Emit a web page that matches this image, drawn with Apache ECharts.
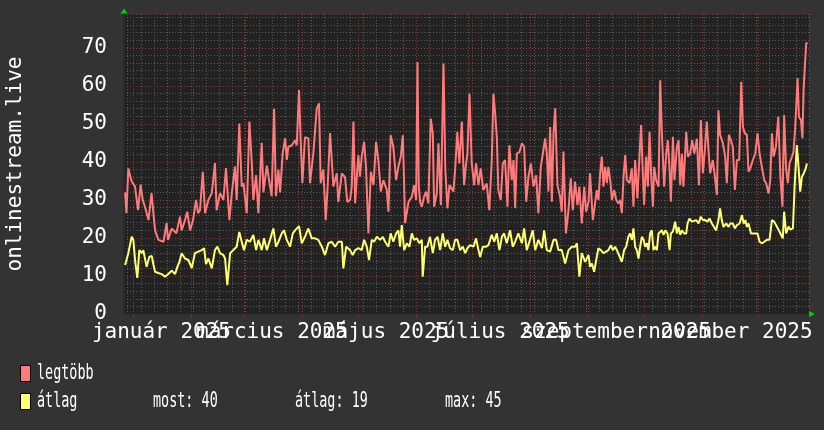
<!DOCTYPE html>
<html>
<head>
<meta charset="utf-8">
<script src="https://cdn.jsdelivr.net/npm/echarts@6/dist/echarts.min.js"></script>
<style>
html,body{margin:0;padding:0;background:#333333;}
#chart{width:824px;height:430px;}
</style>
</head>
<body>
<div id="chart"></div>
<script>
// ---- data (day offset from 2024-12-27, value) ----
const startYear = 2024, startMonth = 11, startDay = 27;   // 2024-12-27
const spanDays = 366;
const yMax = 78.9;
const yInterval = 10;
const monthNames = ['január','február','március','április','május','június','július','augusztus','szeptember','október','november','december'];
const labelYear = 2025;
const labelMonthsA = [0, 4, 8];
const labelMonthsB = [2, 6, 10];
const tickMonths = [0,1,2,3,4,5,6,7,8,9,10,11];
const seriesNames = ['legtöbb', 'átlag'];
const statTexts = ['most: 40', 'átlag: 19', 'max: 45'];
const axisTitle = 'onlinestream.live';

const maxData = [[0.6,32],[1.3,26.5],[2.3,38.3],[4,35],[5.9,33.5],[7.5,27.3],[8.9,34],[10,30],[11.2,28.2],[13.1,24.7],[14.7,31.8],[16.6,22],[18.4,19.5],[21.1,19],[22.8,23.9],[23.5,19.5],[25.5,22.5],[28,21.2],[29.9,25.6],[30.8,22],[32.6,24.7],[33.8,26.9],[35.3,22],[36.9,24.7],[38.5,30],[39.6,26.5],[40.6,27.3],[42.1,37.4],[43.3,26.5],[45.1,30],[46.9,31.8],[48.6,39.7],[49.5,27.3],[51.3,31.8],[53.1,30],[54.5,38.4],[56.3,24.7],[57.6,31.8],[59.3,38.8],[60.2,30],[61.6,50.1],[62.9,33.5],[63.8,34.4],[65.6,26.5],[67,50.6],[68.3,39.7],[69.1,30],[70.6,36.5],[71.8,26.5],[73.6,45],[74.5,32],[76.3,39],[77.1,36.5],[78.9,31],[80.2,54],[81.2,31],[82.5,38],[83.4,32],[84.8,42.3],[86.1,46.2],[87,40.5],[87.8,44],[89.6,44.3],[91.4,45.7],[92.3,44.3],[93.5,58.9],[94.4,45.7],[95.3,34.4],[96.7,46.5],[98.5,46.2],[99.4,34.4],[101.2,42.5],[103,54.1],[104.2,55.4],[105.1,34.4],[106.5,38],[107.8,24.7],[108.9,34.4],[110.1,47.6],[111.9,33.5],[113.7,37],[114.5,29.5],[116.4,37],[118.1,36],[119.3,29.5],[120.8,30],
[121.7,33.5],[122.6,50.6],[123.5,29.1],[124.4,36.1],[125.2,41.8],[126.1,36.1],[127,41.4],[128.3,45.3],[129.3,38.7],[130.6,21.2],[131.9,37.4],[133.3,33.9],[134.7,45.3],[135.9,40.5],[137.2,32.2],[138.6,35.2],[140.4,32.6],[141.3,26.9],[142.5,47],[143.9,44],[145.4,35.2],[146.6,38.7],[147.9,41.4],[149,47],[150.2,23.9],[152,29.5],[153.8,30.8],[155,33.9],[156.1,30],[156.8,66.3],[157.5,33.9],[158.2,29.5],[159.1,28.2],[160.3,30.8],[161.4,32.2],[162.6,29.1],[163.9,51.4],[165,47.5],[165.7,28.2],[167.1,31.7],[168,44.9],[169.3,28.6],[170.7,65.9],[171.7,37.9],[172.8,27.8],[173.9,33.9],[176,32.2],[176.9,37.9],[178.1,47.9],[179.2,39.6],[180.5,50.6],[181.7,33.9],[182.8,39.6],[183.5,42.2],[184.6,58],[185.8,39.6],[187.1,33.9],[188.1,39.6],[189.4,33.9],[190.6,38.3],[192,32.6],[193.8,34.3],[195.2,27.3],[196.5,40.5],[197.4,58],[198.3,52.8],[199.2,46.6],[200,32.6],[201.3,30],[202.4,39.6],[203.6,40.5],[204.9,28.2],[205.9,44.4],[207.2,35.2],[208.1,40.5],[209,27.8],[209.9,42.2],[211.3,42.6],[212.6,44.9],[213.8,44],[214.9,29.5],[216.1,36.1],[217.4,39.6],[218.8,33.5],[220.2,36.5],[221.4,26.5],[222.7,38.7],[223.8,42.2],[225,46.2],[225.9,42.2],[226.8,32.2],[227.7,49.2],[228.6,29.5],[229.5,47.5],[230.4,54.1],[231.6,33.9],[233,30.8],[233.9,26.9],[234.8,42.7],[236.1,21.2],[237.5,27.3],[238.7,35.7],[239.8,27.3],[241,34.8],[242.3,28.6],[243.3,33.5],[244.6,23.8],[245.9,33.5],[246.9,26.9],[248.2,29.5],[249,37],
[250.5,24.7],[251.7,29.1],[252.6,32.6],[253.5,30],[254.4,37],[255.3,41.4],[256.2,33.5],[257.1,38.7],[258,34.4],[258.8,38.7],[259.8,35.2],[260.7,30],[261.9,32.6],[263,30],[264.2,29.1],[265.1,30],[266,26.5],[266.9,36.1],[267.8,41.8],[268.7,35.2],[270.1,34.4],[271.3,38.3],[272.2,28.2],[273.1,40.5],[274.3,30.4],[275.4,41.4],[276.3,49.7],[277.2,37],[277.9,28.7],[279,41.4],[279.9,33.5],[280.8,47.9],[281.7,36.1],[282.6,28.2],[283.3,38.7],[284.3,35.2],[285.6,33.5],[286.5,61.5],[287.4,47.5],[288.6,33.5],[289.7,42.2],[290.6,45.7],[291.5,37.9],[292.2,29.5],[293.3,46.6],[294.1,35.2],[295.4,44],[296.3,45.7],[297.2,33.9],[298.1,42.2],[298.9,33.5],[300.4,47.9],[301.3,41.4],[302.5,42.2],[303.6,45.7],[304.7,42.2],[306.1,46.1],[307.2,33.9],[308.2,51],[309.3,37],[310.2,42.2],[311.4,50.6],[312.3,43.1],[313.2,37],[314.6,40.5],[315.5,37],[316.8,31.3],[317.6,53.6],[318.5,47.1],[320,44.9],[321.2,41.4],[322.1,34.4],[323.2,47.1],[324.3,45.7],[325.3,43.9],[326.4,32.6],[327.5,40.5],[328.7,40.5],[329.8,61.1],[330.7,49.2],[331.7,47.5],[332.8,47.1],[333.7,37.4],[334.9,38.7],[336,40.5],[337.3,42.2],[338.5,47.5],[339.6,42.2],[340.8,38.7],[342.1,35.2],[343.1,34.4],[344.4,31.7],[345.3,35.2],[346.2,47.5],[347.1,41.4],[348.3,43.9],[349.6,51.9],[350.7,36.1],[351.8,28.2],[352.7,52.3],[353.8,37.9],[354.7,34.4],[355.6,39.6],[356.9,41.4],[357.7,42.6],[358.6,48.8],[359.9,62],[360.6,51.9],[361.7,51],[362.5,46.2],[363.1,58.9],[364,59.3],[364.5,71.2],[365.2,71.4]];

const avgData = [[0.6,12.9],[2.3,16],[4.1,20.3],[5,19.5],[5.9,14.2],[7.1,9.5],[8.2,16.8],[9.5,16],[10.3,16.8],[12.1,12.4],[13.5,15],[14.8,15.3],[15.7,13.1],[16.6,11.1],[18.3,10.8],[20.1,10.5],[21.9,9.8],[23.7,10.5],[25.5,11.4],[27.3,10.5],[28.5,12.4],[29.6,13.7],[30.8,16],[32.6,14.6],[34.4,14.2],[36.2,12.1],[37.9,16],[39.7,16.4],[41.5,16.8],[42.8,17.3],[43.8,13.1],[45.1,14.6],[46.9,12],[48.6,16.8],[49.9,17.7],[51.3,16],[53.1,15.5],[54,14.6],[55.2,7.6],[56.7,16],[58.4,16.8],[60.2,17.7],[61.6,21.6],[62.9,19],[64.1,16.8],[65.6,19.5],[67.3,19],[69.1,20.8],[70.6,16.8],[71.8,19.5],[73.6,16.8],[74.8,19.9],[76.3,16.8],[78,19.5],[79.8,22.5],[81.2,17.7],[82.5,19],[84.3,21.2],[85.5,22],[87,19.5],[88.7,17.7],[90.2,21.2],[91.4,22],[93.5,23.1],[95,18.6],[96.7,20.3],[98.5,22.5],[100.3,19.9],[102.1,19.9],[103.8,19.5],[105.7,17.7],[107.4,15.5],[109.2,18.6],[111,19],[112.8,17.7],[114.5,19],[116.4,19],[117.2,12],[118.7,17.7],[120.8,16.8],
[122.2,15.5],[123.5,16.8],[125.2,17.3],[127,16.8],[128.3,19.5],[129.7,17.7],[130.9,14.2],[132.4,19.5],[133.6,19],[135.1,20.3],[136.8,19.5],[138.3,20.3],[139.5,19],[141.3,17.7],[142.5,21.2],[143.9,19],[145.4,21.2],[146.6,22],[147.5,17.7],[148.4,23.4],[149.7,16.8],[151.1,18.6],[152.5,17.7],[153.8,21.2],[155,19.5],[156.4,19.9],[157.8,18.6],[159.1,19.5],[159.6,9.8],[160.9,17.7],[162.1,17.7],[163.5,20.3],[165,16],[166.2,19.5],[167.5,20.3],[168.9,16.8],[170.3,21.2],[171.6,17.7],[172.8,19.5],[174.2,17.3],[175.7,16.8],[176.9,19.5],[178.1,19.5],[179.6,16.8],[181,17.7],[182.3,16],[183.5,17.3],[184.9,18.1],[186.7,17.7],[188.1,19.9],[189.4,16.8],[190.3,15],[191.7,17.7],[193.5,17.7],[194.7,18.1],[196.5,20.8],[197.8,19],[199.2,21.2],[200.6,16.8],[201.9,20.3],[203.1,21.2],[204.5,18.6],[206.3,22],[207.7,17.7],[209,19],[210.7,21.2],[212.6,18.6],[213.8,22.5],[215.2,16.8],[216.6,19],[218.4,22],[219.7,16.8],[221.4,19.5],[223.3,17.3],[224.5,22],[225.9,16.8],[227.7,16.4],[229.5,19.5],[230.9,19.5],[232.1,16.8],[233.9,16.8],[235.7,13.3],[237.5,16.8],[239.3,17.7],[241,17.7],[242,18.6],[243.3,9.8],[244.6,16],[246.4,13.7],[248.2,15.5],[249,12.4],
[250,13.3],[251.2,11.1],[252.3,14.2],[253.5,17.3],[254.8,16.8],[256.2,16],[257.6,16.4],[258.8,16.8],[260.1,18.1],[261.2,16.8],[262.4,17.7],[263.7,16.4],[264.7,16],[266,13.7],[267.2,16.8],[268.3,17.7],[269.5,20.3],[270.4,21.2],[271.4,19.5],[272.2,22.5],[273.1,17.7],[274,16.8],[274.9,14.6],[275.8,17.7],[276.7,20.3],[277.6,19.5],[278.5,17.7],[279.4,18.6],[280.2,16.8],[281.1,21.2],[282,22],[282.9,16.8],[283.8,17.7],[284.7,16.8],[285.6,21.2],[286.5,21.2],[287.4,22],[288.3,20.8],[289.2,22],[290.4,21.2],[291.5,16.8],[292.2,21.2],[293.3,21.7],[294.5,24.3],[295.4,21.2],[296.3,22.9],[297.2,20.8],[298.1,22],[299.3,21.2],[300.4,21.2],[301.1,23.8],[302.1,25.1],[303.4,24.3],[304.3,23.8],[305.7,24.7],[307,23.8],[308.2,25.6],[309.3,24.7],[310.5,24.7],[311.8,24.3],[312.8,25.1],[314.1,23.8],[315,24.3],[316.4,22],[317.6,24.7],[318.5,27.8],[319.4,24.7],[320.3,22.9],[321.8,23.8],[323,22.9],[323.9,23.8],[325.3,23.8],[326.4,22.5],[327.5,23.4],[328.9,23.8],[330.2,26],[331.1,23.8],[332,24.7],[332.8,22.9],[333.7,23.8],[335,21.2],[336,21.2],[337.3,21.2],[338.5,21.2],[339.6,19],[340.8,18.6],[342.1,19],[343.5,19.5],[344.9,19.5],[346.2,24.7],[347.4,24.3],[348.8,23],[350.2,21.7],[351,21.2],[352,19.9],[352.7,26.9],[353.8,21.2],[355.1,23],[356,22.2],[357.4,22.5],[358.3,33.5],[359.5,44.4],[360.4,38.7],[361.3,32.2],[362.2,36.1],[363.1,36.9],[364,37.9],[364.9,39.6]];

// ---- derived ----
const DAY = 86400000;
const t0 = Date.UTC(startYear, startMonth, startDay);
const tMax = t0 + spanDays * DAY;
const toTime = d => t0 + d * DAY;
const maxSeries = maxData.map(p => [toTime(p[0]), p[1]]);
const avgSeries = avgData.map(p => [toTime(p[0]), p[1]]);
const monthTicks = tickMonths.map(m => Date.UTC(labelYear, m, 1));
const labelTimesA = labelMonthsA.map(m => Date.UTC(labelYear, m, 1) + 15 * DAY);
const labelTimesB = labelMonthsB.map(m => Date.UTC(labelYear, m, 1) + 15 * DAY);
const weekTicks = [];
for (let t = Date.UTC(2024, 11, 29); t <= tMax; t += 7 * DAY) weekTicks.push(t);

const RED = '#ff7b7b', YEL = '#ffff72';
const FONT = 'DejaVu Sans Mono';
const minorGrid = {color: '#5c5c5c', type: [1, 2], width: 1};
const majorGrid = {color: '#843a3a', type: [1, 2], width: 1};
const monthLabel = v => monthNames[new Date(v).getUTCMonth()] + ' ' + new Date(v).getUTCFullYear();
const labelAxis = (values) => ({
  type: 'value', min: t0, max: tMax, z: 2, position: 'bottom', offset: 0,
  axisLine: {show: false}, axisTick: {show: false}, splitLine: {show: false},
  axisLabel: {customValues: values, hideOverlap: false, color: '#ffffff', fontSize: 21, fontFamily: FONT, margin: 8, formatter: monthLabel}
});

const chart = echarts.init(document.getElementById('chart'), null, {renderer: 'canvas'});
const legendFont = '21px "DejaVu Sans Mono"';
const legScale = 0.64;
chart.setOption({
  backgroundColor: '#333333',
  animation: false,
  grid: {left: 124, top: 14, width: 685, height: 300, show: true, backgroundColor: '#222222', borderWidth: 0, containLabel: false, outerBoundsMode: 'none'},
  xAxis: [
    {
      type: 'value', min: t0, max: tMax, z: 1, position: 'bottom', offset: 0,
      axisLine: {show: true, lineStyle: {color: '#2a2a2a', width: 2}},
      axisTick: {show: true, customValues: monthTicks, length: 3, inside: false, lineStyle: {color: '#8a3030'}},
      splitLine: {show: true, lineStyle: majorGrid},
      axisLabel: {show: false}
    },
    {
      type: 'value', min: t0, max: tMax, z: 0, position: 'bottom', offset: 0,
      axisLine: {show: false}, axisLabel: {show: false},
      axisTick: {show: false, customValues: weekTicks},
      splitLine: {show: true, lineStyle: minorGrid}
    },
    labelAxis(labelTimesA),
    labelAxis(labelTimesB)
  ],
  yAxis: [
    {
      type: 'value', min: 0, max: yMax, interval: yInterval, z: 1, position: 'left', offset: 0,
      name: axisTitle, nameLocation: 'middle', nameRotate: 90, nameGap: 98,
      nameTextStyle: {color: '#ffffff', fontSize: 21, fontFamily: FONT},
      axisLine: {show: true, lineStyle: {color: '#2a2a2a', width: 2}},
      axisTick: {show: false},
      axisLabel: {showMaxLabel: false, color: '#ffffff', fontSize: 21, fontFamily: FONT, margin: 17},
      splitLine: {show: true, lineStyle: majorGrid}
    },
    {
      type: 'value', min: 0, max: yMax, interval: 2, z: 0, position: 'left', offset: 0,
      axisLine: {show: false}, axisTick: {show: false}, axisLabel: {show: false},
      splitLine: {show: true, lineStyle: minorGrid}
    }
  ],
  series: [
    {
      name: seriesNames[0], type: 'line', data: maxSeries, showSymbol: false, z: 3,
      lineStyle: {color: RED, width: 2}, itemStyle: {color: RED},
      markPoint: {
        silent: true, label: {show: false},
        data: [
          {coord: [tMax, 0], symbol: 'triangle', symbolSize: [6, 6], symbolRotate: -90, symbolOffset: [3, 0], itemStyle: {color: '#00d000'}},
          {coord: [t0, yMax], symbol: 'triangle', symbolSize: [7, 5], symbolOffset: [0, -3], itemStyle: {color: '#00d000'}}
        ]
      }
    },
    {
      name: seriesNames[1], type: 'line', data: avgSeries, showSymbol: false, z: 4,
      lineStyle: {color: YEL, width: 2}, itemStyle: {color: YEL}
    }
  ],
  graphic: [
    {type: 'rect', shape: {x: 20.5, y: 365.5, width: 10, height: 16}, style: {fill: RED, stroke: '#000', lineWidth: 1}},
    {type: 'rect', shape: {x: 20.5, y: 393.5, width: 10, height: 16}, style: {fill: YEL, stroke: '#000', lineWidth: 1}},
    {type: 'text', x: 37, y: 374, scaleX: legScale, style: {text: seriesNames[0], fill: '#fff', font: legendFont, verticalAlign: 'middle'}},
    {type: 'text', x: 37, y: 402, scaleX: legScale, style: {text: seriesNames[1], fill: '#fff', font: legendFont, verticalAlign: 'middle'}},
    {type: 'text', x: 153, y: 402, scaleX: legScale, style: {text: statTexts[0], fill: '#fff', font: legendFont, verticalAlign: 'middle'}},
    {type: 'text', x: 295, y: 402, scaleX: legScale, style: {text: statTexts[1], fill: '#fff', font: legendFont, verticalAlign: 'middle'}},
    {type: 'text', x: 445, y: 402, scaleX: legScale, style: {text: statTexts[2], fill: '#fff', font: legendFont, verticalAlign: 'middle'}}
  ]
});
</script>
</body>
</html>
